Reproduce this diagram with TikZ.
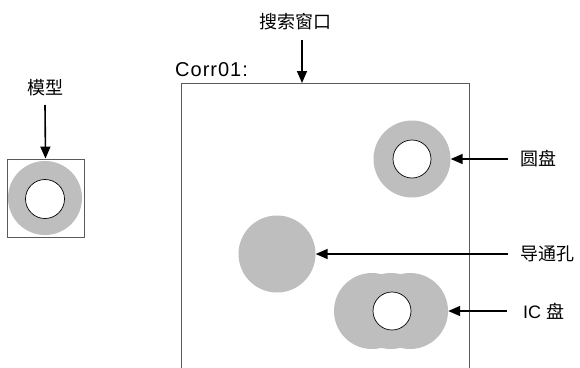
\documentclass[tikz,border=0pt]{standalone}
\usepackage{fontspec}
\setmainfont{Liberation Sans}
\newfontfamily\cjk{Noto Sans CJK SC}
\newfontfamily\corrfont[LetterSpace=5]{Liberation Sans}
\usetikzlibrary{arrows.meta}
\definecolor{padgray}{RGB}{190,190,190}
\definecolor{framegray}{RGB}{90,90,90}
\begin{document}
\begin{tikzpicture}[x=1pt,y=-1pt,
  padfill/.style={circle,fill=padgray,draw=none,minimum size=76pt,inner sep=0pt},
  hole/.style={circle,fill=white,draw=black,line width=0.7pt,minimum size=38pt,inner sep=0pt},
  frame/.style={draw=framegray,line width=0.9pt},
  arr/.style={-{Triangle[length=12pt,width=10pt]},line width=1.6pt},
  lbl/.style={font=\cjk\fontsize{18}{20}\selectfont,inner sep=0pt},
  latin/.style={font=\fontsize{19}{21}\selectfont,inner sep=0pt}]
\useasboundingbox (0,0) rectangle (580,367);
% model
\node[frame,minimum width=77pt,minimum height=78pt,inner sep=0pt] (mbox) at (45.5,198) {};
\node[padfill,minimum size=74pt] (mpad) at (45,198) {};
\node[hole,minimum size=39pt] (mhole) at (45,199) {};
\node[lbl] (mlabel) at (45,88) {模型};
\coordinate (mtail) at (45,105);
\draw[arr] (mtail) -- (mbox.north);
% search window
\coordinate (wbl) at (181,368);
\coordinate (wtl) at (181,83);
\coordinate (wtr) at (469,83);
\coordinate (wbr) at (469,368);
\coordinate (wtop) at (302,83);
\draw[frame] (wbl) -- (wtl) -- (wtr) -- (wbr);
\node[inner sep=0pt,anchor=base west,font=\corrfont\fontsize{20}{22}\selectfont] (corr) at (175,76) {Corr01:};
\node[lbl] (wlabel) at (295,22) {搜索窗口};
\coordinate (wtail) at (302,40);
\draw[arr] (wtail) -- (wtop);
% pad
\node[padfill,minimum size=77pt] (pad) at (412,159) {};
\node[hole] (padhole) at (412,159) {};
\node[lbl,anchor=west] (padlabel) at (520,159) {圆盘};
\coordinate (padtail) at (508,159);
\draw[arr] (padtail) -- (pad.east);
% via
\node[padfill,minimum size=77pt] (via) at (277,254) {};
\node[lbl,anchor=west] (vialabel) at (520,254) {导通孔};
\coordinate (viatail) at (508,254);
\draw[arr] (viatail) -- (via.east);
% IC pad
\node[padfill] (icL) at (372,311) {};
\node[padfill] (icM) at (391,311) {};
\node[padfill] (icR) at (410,311) {};
\node[hole] (ichole) at (392,311) {};
\node[latin,anchor=west,font=\fontsize{18}{20}\selectfont] (iclabel) at (523,311) {IC {\cjk 盘}};
\coordinate (ictail) at (507,311);
\draw[arr] (ictail) -- (icR.east);
\end{tikzpicture}
\end{document}
